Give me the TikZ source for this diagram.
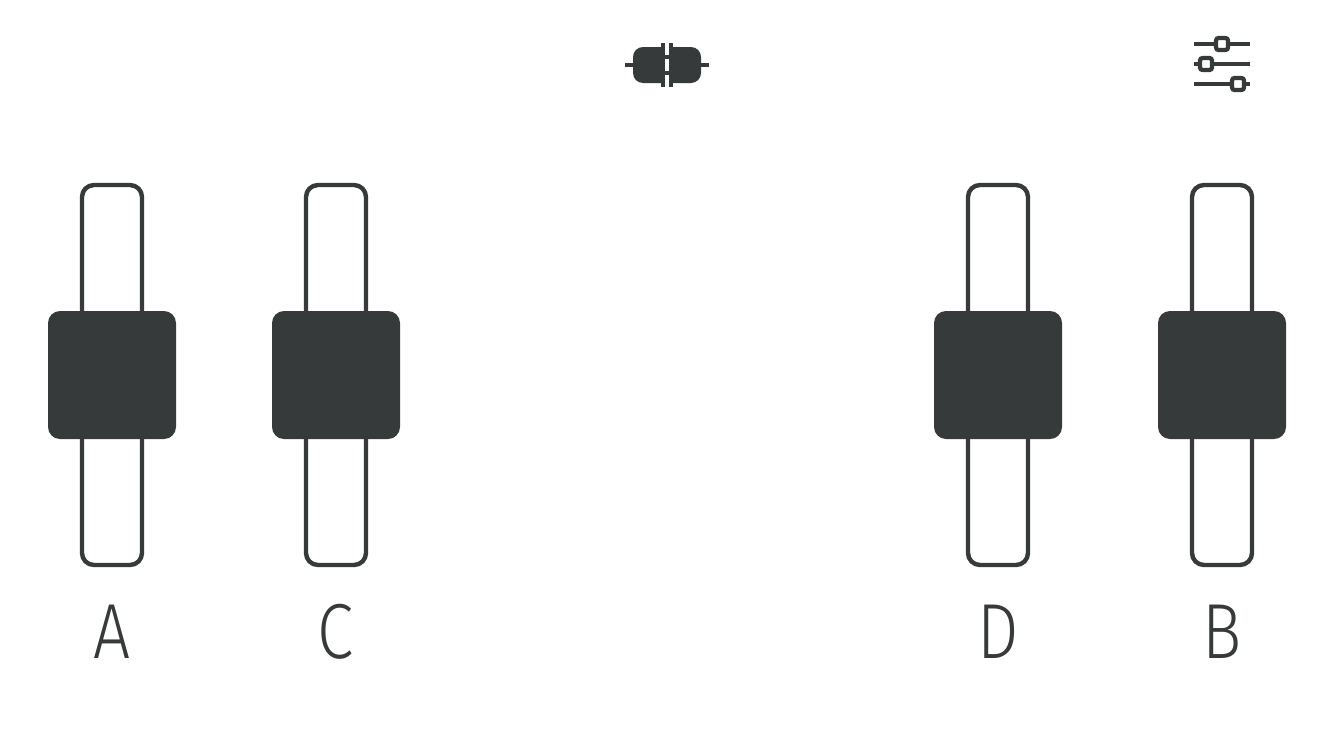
\documentclass[tikz,border=0pt]{standalone}
\usepackage{fontspec}
\newfontfamily\labfont{Fira Sans Light}
\definecolor{ink}{HTML}{363A3B}
\tikzset{
  x=1pt,y=-1pt,
  track/.style={draw=ink,line width=4.4pt,rounded corners=12pt,fill=white},
  knob/.style={fill=ink,rounded corners=12pt},
  iconline/.style={draw=ink,line width=4.2pt},
  iconknob/.style={draw=ink,line width=4.2pt,fill=white,rounded corners=2.5pt},
  letter/.style={text=ink,font=\labfont\fontsize{78}{78}\selectfont,inner sep=0pt,anchor=base,xscale=.84}
}
\begin{document}
\begin{tikzpicture}
\useasboundingbox (0,0) rectangle (1334,750);
\fill[white] (0,0) rectangle (1334,750);
\foreach \cx/\lab in {112/A,336/C,998/D,1222/B}{
  \draw[track] (\cx-30,185) rectangle (\cx+30,565);
  \fill[knob] (\cx-64,311) rectangle (\cx+64,439);
  \node[letter] at (\cx,658) {\lab};
}
% connector icon
\fill[ink,rounded corners=10pt] (633,47) rectangle (701,83);
\fill[white] (665,43) rectangle (669,87);
\fill[ink] (665,55) rectangle (669,59);
\fill[ink] (665,71) rectangle (669,75);
\fill[ink] (661,43) rectangle (665,87);
\fill[ink] (669,43) rectangle (673,87);
\fill[ink] (625,63) rectangle (633,67);
\fill[ink] (701,63) rectangle (709,67);
% settings icon
\draw[iconline] (1194,44) -- (1250,44);
\draw[iconline] (1194,64) -- (1250,64);
\draw[iconline] (1194,84) -- (1250,84);
\draw[iconknob] (1216,38) rectangle (1228,50);
\draw[iconknob] (1200,58) rectangle (1212,70);
\draw[iconknob] (1232,78) rectangle (1244,90);
\end{tikzpicture}
\end{document}
